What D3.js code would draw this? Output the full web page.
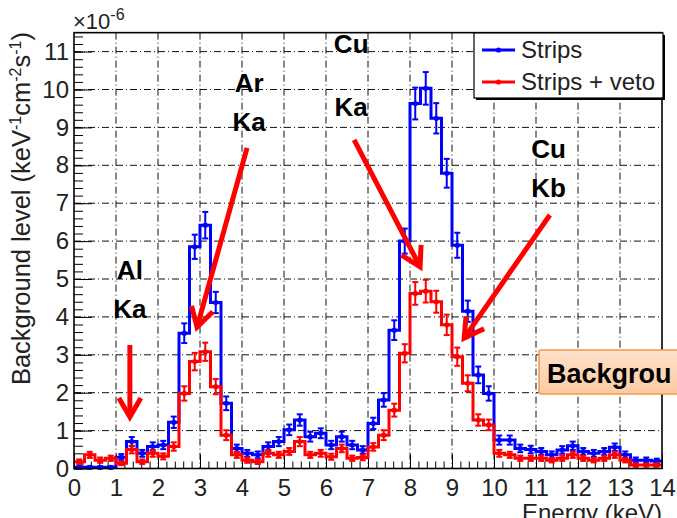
<!DOCTYPE html>
<html><head><meta charset="utf-8">
<script src="https://cdn.jsdelivr.net/npm/d3@7"></script>
<style>html,body{margin:0;padding:0;background:#fff;overflow:hidden}</style>
</head><body><svg id="c" width="677" height="518"></svg>
<script>
// ---- data (bins of 0.25 keV from 0 to 14 keV) ----
const binWidth = 0.25;
const stripsValues = [0.03,0.03,0.03,0.03,0.30,0.71,0.40,0.58,0.62,1.22,
  3.57,5.85,6.42,4.38,1.72,0.53,0.40,0.36,0.58,0.71,
  1.02,1.28,0.84,0.93,0.62,0.84,0.62,0.49,1.19,1.81,
  3.65,6.00,9.63,10.03,9.24,7.79,5.89,4.15,2.47,1.98,
  0.75,0.75,0.53,0.50,0.45,0.36,0.49,0.60,0.45,0.40,
  0.45,0.56,0.36,0.22,0.22,0.20];
const vetoValues = [0.18,0.36,0.22,0.27,0.14,0.50,0.18,0.40,0.32,0.58,
  1.98,2.82,3.08,2.16,0.88,0.36,0.22,0.18,0.40,0.36,
  0.45,0.71,0.36,0.40,0.31,0.53,0.27,0.29,0.57,0.88,
  1.54,3.04,4.62,4.68,4.40,3.79,2.95,2.25,1.28,1.15,
  0.40,0.36,0.27,0.27,0.27,0.22,0.27,0.36,0.27,0.22,
  0.27,0.36,0.22,0.09,0.09,0.09];
const stripsErrors = [0.03,0.03,0.03,0.03,0.08,0.12,0.09,0.11,0.11,0.15,
  0.26,0.32,0.35,0.28,0.18,0.10,0.09,0.09,0.11,0.12,
  0.14,0.15,0.13,0.13,0.11,0.13,0.11,0.10,0.15,0.18,
  0.26,0.33,0.42,0.43,0.40,0.38,0.33,0.28,0.22,0.19,
  0.12,0.12,0.10,0.10,0.09,0.09,0.10,0.11,0.09,0.09,
  0.09,0.10,0.09,0.07,0.07,0.06];
const vetoErrors = [0.06,0.08,0.07,0.07,0.05,0.10,0.06,0.09,0.08,0.11,
  0.19,0.23,0.24,0.20,0.13,0.08,0.07,0.06,0.09,0.08,
  0.09,0.12,0.08,0.09,0.08,0.10,0.07,0.07,0.10,0.13,
  0.17,0.24,0.30,0.30,0.29,0.27,0.24,0.21,0.15,0.14,
  0.09,0.08,0.07,0.07,0.07,0.06,0.07,0.08,0.07,0.06,
  0.07,0.08,0.06,0.04,0.04,0.04];
const xTickValues = [0,1,2,3,4,5,6,7,8,9,10,11,12,13,14];
const yTickValues = [0,1,2,3,4,5,6,7,8,9,10,11];
const seriesNames = ["Strips", "Strips + veto"];
const seriesColors = ["#0000ff", "#ff0000"];
const xDomain = [0, 14];
const yDomain = [0, 11.5];
// annotations: label lines, label anchor (keV, value), line gap (value units), arrow start and tip (keV, value)
const annotLabels = [["Al","Ka"],["Ar","Ka"],["Cu","Ka"],["Cu","Kb"]];
const annotLabelPos = [[1.33,5.0],[4.17,9.93],[6.6,10.95],[11.3,8.2]];
const annotLineGap = [1.03,1.03,1.65,1.03];
const annotArrowFrom = [[1.33,3.26],[4.12,8.46],[6.67,8.67],[11.33,6.69]];
const annotArrowTo = [[1.33,1.36],[2.93,3.73],[8.24,5.32],[9.29,3.44]];

// ---- layout ----
const svg = d3.select("#c");
const x = d3.scaleLinear().domain(xDomain).range([74, 662]);
const y = d3.scaleLinear().domain(yDomain).range([468.5, 32.65]);
const font = "'Liberation Sans', Arial, sans-serif";
const txtCol = "#222";

// grid
const g = svg.append("g");
g.selectAll(".vg").data(xTickValues.slice(1, -1)).join("line")
  .attr("x1", d => x(d)).attr("x2", d => x(d)).attr("y1", y(yDomain[1])).attr("y2", y(0))
  .attr("stroke", "#111").attr("stroke-width", 1).attr("stroke-dasharray", "7,3,1,3");
g.selectAll(".hg").data(yTickValues.slice(1)).join("line")
  .attr("y1", d => y(d)).attr("y2", d => y(d)).attr("x1", x(0)).attr("x2", x(14))
  .attr("stroke", "#111").attr("stroke-width", 1).attr("stroke-dasharray", "7,3,1,3");

// axes (ticks pointing inward)
const xMinor = d3.range(0, 14.001, 0.2);
const yMinor = d3.range(0, 11.5, 0.2);
svg.append("g").attr("transform", `translate(0,${y(0)})`)
  .call(d3.axisBottom(x).tickValues(xMinor).tickSize(-7).tickFormat(""))
  .call(a => a.select(".domain").remove());
svg.append("g").attr("transform", `translate(0,${y(0)})`)
  .call(d3.axisBottom(x).tickValues(xTickValues).tickSize(-14).tickPadding(10).tickFormat(d3.format("d")))
  .call(a => a.select(".domain").remove())
  .call(a => a.selectAll("text").attr("font-size", 24).attr("font-family", font).attr("fill", txtCol));
svg.append("g").attr("transform", `translate(${x(0)},0)`)
  .call(d3.axisLeft(y).tickValues(yMinor).tickSize(-9).tickFormat(""))
  .call(a => a.select(".domain").remove());
svg.append("g").attr("transform", `translate(${x(0)},0)`)
  .call(d3.axisLeft(y).tickValues(yTickValues).tickSize(-18).tickPadding(5).tickFormat(d3.format("d")))
  .call(a => a.select(".domain").remove())
  .call(a => a.selectAll("text").attr("font-size", 24).attr("font-family", font).attr("fill", txtCol));
svg.selectAll(".tick line").attr("stroke", "#000").attr("stroke-width", 1);

// histograms
const series = [stripsValues, vetoValues];
const errors = [stripsErrors, vetoErrors];
series.forEach((vals, si) => {
  const pts = [];
  vals.forEach((v, i) => { pts.push([i * binWidth, v]); pts.push([(i + 1) * binWidth, v]); });
  svg.append("path")
    .attr("d", d3.line().x(d => x(d[0])).y(d => y(d[1]))(pts))
    .attr("fill", "none").attr("stroke", seriesColors[si]).attr("stroke-width", 3)
    .attr("stroke-linejoin", "miter");
  const eg = svg.append("g").attr("stroke", seriesColors[si]).attr("stroke-width", 2);
  vals.forEach((v, i) => {
    const cx = x((i + 0.5) * binWidth), e = errors[si][i];
    eg.append("line").attr("x1", cx).attr("x2", cx).attr("y1", y(v - e)).attr("y2", y(v + e));
    eg.append("line").attr("x1", cx - 3).attr("x2", cx + 3).attr("y1", y(v + e)).attr("y2", y(v + e));
    eg.append("line").attr("x1", cx - 3).attr("x2", cx + 3).attr("y1", y(v - e)).attr("y2", y(v - e));
  });
  svg.append("g").selectAll("circle").data(vals).join("circle")
    .attr("cx", (d, i) => x((i + 0.5) * binWidth)).attr("cy", d => y(d)).attr("r", 2.6)
    .attr("fill", seriesColors[si]);
});

// frame
svg.append("rect").attr("x", x(0)).attr("y", y(yDomain[1])).attr("width", x(14) - x(0)).attr("height", y(0) - y(yDomain[1]))
  .attr("fill", "none").attr("stroke", "#000").attr("stroke-width", 1.6);

// exponent label
const ex = svg.append("text").attr("x", 73).attr("y", 29).attr("font-family", font).attr("font-size", 22).attr("fill", txtCol);
ex.append("tspan").text("×10");
ex.append("tspan").attr("font-size", 16).attr("dy", -9).text("-6");

// y-axis title
const yt = svg.append("text").attr("transform", "translate(30,32) rotate(-90)").attr("text-anchor", "end")
  .attr("font-family", font).attr("font-size", 25.5).attr("fill", txtCol);
yt.append("tspan").text("Background level (keV");
yt.append("tspan").attr("font-size", 16).attr("dy", -9).text("-1");
yt.append("tspan").attr("dy", 9).text("cm");
yt.append("tspan").attr("font-size", 16).attr("dy", -9).text("-2");
yt.append("tspan").attr("dy", 9).text("s");
yt.append("tspan").attr("font-size", 16).attr("dy", -9).text("-1");
yt.append("tspan").attr("dy", 9).text(")");

// x-axis title (lower half falls off the page, as in the source)
svg.append("text").attr("x", 662).attr("y", 521).attr("text-anchor", "end")
  .attr("font-family", font).attr("font-size", 24).attr("fill", txtCol).text("Energy (keV)");

// legend
const lg = svg.append("g");
lg.append("rect").attr("x", 476).attr("y", 35).attr("width", 189).attr("height", 65).attr("fill", "#000");
lg.append("rect").attr("x", 474).attr("y", 33).attr("width", 189).attr("height", 65).attr("fill", "#fff").attr("stroke", "#000").attr("stroke-width", 1.2);
seriesNames.forEach((n, i) => {
  const ly = 50 + i * 32;
  lg.append("line").attr("x1", 482).attr("x2", 515).attr("y1", ly).attr("y2", ly).attr("stroke", seriesColors[i]).attr("stroke-width", 3);
  lg.append("circle").attr("cx", 498.5).attr("cy", ly).attr("r", 2.6).attr("fill", seriesColors[i]);
  lg.append("text").attr("x", 521).attr("y", ly + 8).attr("font-family", font).attr("font-size", 24).attr("fill", txtCol).text(n);
});

// annotations
const red = "#ff0000";
annotLabels.forEach((lines, i) => {
  const [lx, lv] = annotLabelPos[i];
  lines.forEach((t, k) => {
    svg.append("text").attr("x", x(lx)).attr("y", y(lv - k * annotLineGap[i])).attr("text-anchor", "middle")
      .attr("font-family", font).attr("font-weight", "bold").attr("font-size", 26).attr("fill", "#000").text(t);
  });
  const x1 = x(annotArrowFrom[i][0]), y1 = y(annotArrowFrom[i][1]);
  const x2 = x(annotArrowTo[i][0]), y2 = y(annotArrowTo[i][1]);
  const ang = Math.atan2(y2 - y1, x2 - x1), L = 22, A = Math.PI / 6;
  svg.append("line").attr("x1", x1).attr("y1", y1).attr("x2", x2).attr("y2", y2)
    .attr("stroke", red).attr("stroke-width", 5);
  svg.append("path")
    .attr("d", `M${x2 - L * Math.cos(ang - A)},${y2 - L * Math.sin(ang - A)}L${x2},${y2}L${x2 - L * Math.cos(ang + A)},${y2 - L * Math.sin(ang + A)}`)
    .attr("fill", "none").attr("stroke", red).attr("stroke-width", 5).attr("stroke-linejoin", "miter");
});

// orange callout box (cut at the page edge, as in the source)
const defs = svg.append("defs");
const gr = defs.append("linearGradient").attr("id", "og").attr("x1", 0).attr("y1", 0).attr("x2", 0).attr("y2", 1);
gr.append("stop").attr("offset", "0%").attr("stop-color", "#fde2cc");
gr.append("stop").attr("offset", "100%").attr("stop-color", "#fccaa2");
svg.append("rect").attr("x", 539).attr("y", 350).attr("width", 160).attr("height", 44).attr("rx", 2)
  .attr("fill", "url(#og)").attr("stroke", "#f79646").attr("stroke-width", 1.5);
svg.append("text").attr("x", 547).attr("y", 383).attr("font-family", font).attr("font-weight", "bold")
  .attr("font-size", 27).attr("fill", "#000").text("Backgrou");
</script></body></html>
